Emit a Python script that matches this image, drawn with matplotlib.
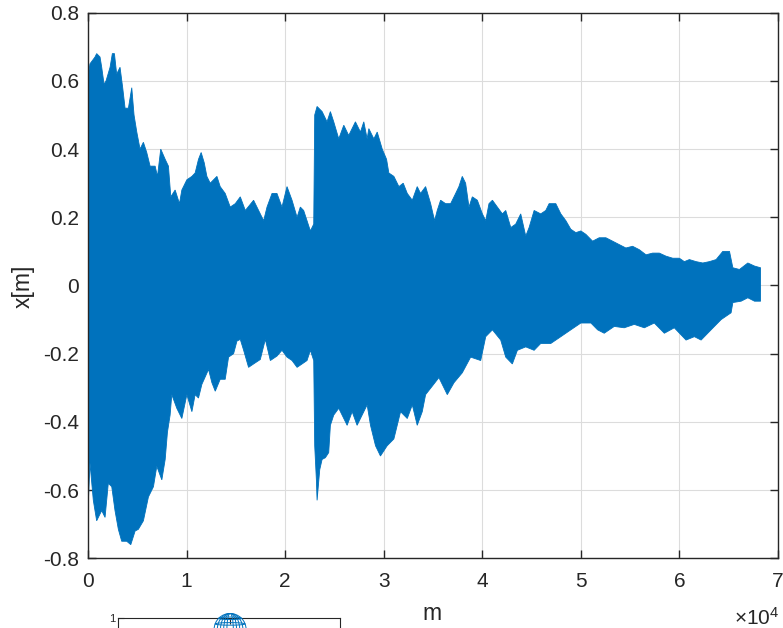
import numpy as np
import matplotlib
matplotlib.use("Agg")
import matplotlib.pyplot as plt
from matplotlib.patches import Ellipse

plt.rcParams['font.family'] = ['Liberation Sans', 'DejaVu Sans']
plt.rcParams['mathtext.fontset'] = 'custom'
plt.rcParams['mathtext.rm'] = 'Liberation Sans'
plt.rcParams['mathtext.it'] = 'Liberation Sans'

# ---- data: upper / lower envelope of the oscillating signal ----
upper_x = [0, 200, 710, 880, 1220, 1390, 1630, 1830, 2240, 2470, 2680, 2910, 3250, 3520, 3760,
           4100, 4440, 4670, 4950, 5280, 5620, 5960, 6300, 6810, 7050, 7380, 7830, 8160, 8400,
           8840, 9280, 9520, 10030, 10540, 10870, 11210, 11480, 11790, 12060, 12400, 12740,
           13080, 13410, 13920, 14430, 14940, 15450, 15960, 16800, 17480, 17820, 18160, 18670,
           19170, 19680, 20190, 20700, 21210, 21540, 21880, 22220, 22560, 22900, 23000, 23240,
           23750, 24250, 24590, 24930, 25440, 25950, 26450, 27130, 27640, 27980, 28320, 28490,
           29000, 29340, 29850, 30290, 30520, 31030, 31540, 31980, 32390, 32900, 33400, 33740,
           34250, 34760, 35160, 35430, 35770, 36280, 36790, 37300, 37630, 37970, 38310, 38650,
           38990, 39500, 40010, 40350, 40680, 41030, 41530, 42040, 42380, 42890, 43390, 43900,
           44410, 44750, 45260, 45930, 46440, 46780, 47460, 47970, 48480, 48980, 49490, 50000,
           50510, 51190, 51860, 52540, 53220, 53890, 54570, 55250, 55930, 56610, 57280, 57960,
           58640, 59320, 59990, 60500, 61010, 61690, 62370, 63040, 63720, 64400, 65080, 65420,
           66090, 66940, 67620, 68230]
upper_y = [0.61, 0.65, 0.67, 0.68, 0.67, 0.64, 0.59, 0.60, 0.64, 0.68, 0.68, 0.62, 0.64, 0.58, 0.52,
           0.52, 0.58, 0.50, 0.45, 0.40, 0.42, 0.39, 0.35, 0.35, 0.32, 0.40, 0.37, 0.35, 0.26,
           0.28, 0.24, 0.28, 0.31, 0.32, 0.33, 0.37, 0.39, 0.36, 0.32, 0.30, 0.31,
           0.32, 0.29, 0.27, 0.23, 0.24, 0.26, 0.22, 0.25, 0.21, 0.19, 0.23, 0.27,
           0.27, 0.23, 0.29, 0.25, 0.20, 0.23, 0.22, 0.19, 0.16, 0.18, 0.50, 0.525,
           0.51, 0.48, 0.51, 0.48, 0.43, 0.47, 0.44, 0.48, 0.45, 0.48, 0.43, 0.46,
           0.43, 0.45, 0.40, 0.37, 0.33, 0.32, 0.29, 0.30, 0.27, 0.25, 0.29, 0.27,
           0.29, 0.24, 0.19, 0.22, 0.25, 0.24, 0.24, 0.27, 0.29, 0.32, 0.30, 0.23,
           0.26, 0.25, 0.21, 0.19, 0.24, 0.25, 0.23, 0.21, 0.22, 0.17, 0.18, 0.21,
           0.145, 0.17, 0.22, 0.21, 0.22, 0.24, 0.24, 0.21, 0.19, 0.165, 0.155, 0.16,
           0.15, 0.13, 0.14, 0.14, 0.13, 0.12, 0.11, 0.115, 0.105, 0.09, 0.095, 0.095,
           0.086, 0.08, 0.08, 0.07, 0.076, 0.07, 0.066, 0.07, 0.076, 0.10, 0.10, 0.052,
           0.047, 0.066, 0.057, 0.052]

lower_x = [0, 200, 540, 880, 1390, 1730, 2060, 2410, 2740, 3080, 3420, 3930, 4340, 4780, 5110,
           5620, 6130, 6640, 6980, 7490, 7830, 8060, 8330, 8500, 9010, 9520, 10030, 10540, 10870,
           11210, 11550, 12230, 12570, 12910, 13410, 13920, 14260, 14770, 15110, 15450, 15790,
           16290, 16800, 17480, 17990, 18500, 19170, 19680, 20190, 20700, 21210, 21720, 22220,
           22560, 22900, 23000, 23170, 23240, 23510, 23750, 24080, 24420, 24590, 24930, 25440,
           25950, 26290, 26800, 27300, 27810, 28320, 28660, 29170, 29670, 30350, 31030, 31710,
           32390, 32900, 33400, 33910, 34250, 34930, 35600, 36450, 37130, 37970, 38820, 39840,
           40350, 41030, 41870, 42380, 43050, 43560, 44410, 45260, 45930, 46950, 47970, 48980,
           50000, 51020, 51700, 52370, 53390, 54400, 55420, 56440, 57450, 58470, 59480, 60670,
           61520, 62200, 63210, 64230, 65240, 65420, 66260, 66940, 67620, 68230]
lower_y = [-0.66, -0.52, -0.63, -0.69, -0.66, -0.68, -0.58, -0.59, -0.66, -0.715, -0.75, -0.75, -0.76, -0.72, -0.715,
           -0.69, -0.62, -0.59, -0.53, -0.57, -0.51, -0.43, -0.38, -0.32, -0.36, -0.39, -0.32, -0.37, -0.32,
           -0.33, -0.29, -0.246, -0.285, -0.31, -0.275, -0.275, -0.21, -0.20, -0.163, -0.158, -0.19,
           -0.24, -0.23, -0.217, -0.158, -0.22, -0.207, -0.19, -0.21, -0.22, -0.24, -0.23, -0.22,
           -0.19, -0.22, -0.47, -0.57, -0.63, -0.54, -0.51, -0.505, -0.49, -0.41, -0.38, -0.36,
           -0.39, -0.41, -0.37, -0.41, -0.38, -0.35, -0.41, -0.47, -0.50, -0.47, -0.45, -0.37,
           -0.39, -0.35, -0.41, -0.37, -0.32, -0.295, -0.27, -0.32, -0.285, -0.256, -0.21, -0.22,
           -0.15, -0.13, -0.16, -0.21, -0.23, -0.19, -0.18, -0.19, -0.17, -0.17, -0.15, -0.13,
           -0.11, -0.11, -0.13, -0.14, -0.12, -0.124, -0.114, -0.124, -0.11, -0.14, -0.124, -0.16,
           -0.15, -0.16, -0.13, -0.10, -0.08, -0.05, -0.046, -0.036, -0.046, -0.046]

xticks = [0, 10000, 20000, 30000, 40000, 50000, 60000, 70000]
xtick_labels = ['0', '1', '2', '3', '4', '5', '6', '7']
yticks = [-0.8, -0.6, -0.4, -0.2, 0, 0.2, 0.4, 0.6, 0.8]
ytick_labels = ['-0.8', '-0.6', '-0.4', '-0.2', '0', '0.2', '0.4', '0.6', '0.8']

BLUE = '#0072BD'
AXC = '#262626'

fig = plt.figure(figsize=(7.83, 6.28), dpi=100)
ax = fig.add_axes([88 / 783, 1 - 558.3 / 628, 690 / 783, 545.6 / 628])

poly_x = np.concatenate([upper_x, lower_x[::-1]])
poly_y = np.concatenate([upper_y, lower_y[::-1]])
ax.fill(poly_x, poly_y, color=BLUE, linewidth=0.6, edgecolor=BLUE, zorder=3)

ax.set_xlim(0, 70000)
ax.set_ylim(-0.8, 0.8)
ax.set_xticks(xticks)
ax.set_xticklabels(xtick_labels)
ax.set_yticks(yticks)
ax.set_yticklabels(ytick_labels)
ax.grid(True, color='#dcdcdc', linewidth=0.8, zorder=0)
ax.set_axisbelow(True)
for s in ax.spines.values():
    s.set_color(AXC)
    s.set_linewidth(1.0)
    s.set_zorder(5)
ax.tick_params(direction='in', length=6, width=1.0, color=AXC, labelcolor=AXC,
               labelsize=15, top=True, right=True)
ax.tick_params(axis='x', pad=10)
ax.tick_params(axis='y', pad=6.5)

fig.text(23 / 783, 1 - 286 / 628, 'x[m]', rotation=90, ha='center', va='center',
         fontsize=16.5, color=AXC)
fig.text(432 / 783, 1 - 613 / 628, 'm', ha='center', va='center', fontsize=16.5, color=AXC)
fig.text(779 / 783, 1 - 618 / 628, r'$\times10^{4}$', ha='right', va='center',
         fontsize=15, color=AXC)

# ---- partially visible second panel at the bottom ----
ih = 0.3
ax2 = fig.add_axes([118 / 783, (628 - 617.5) / 628 - ih, 222 / 783, ih])
ax2.set_xlim(0, 1)
ax2.set_ylim(0, 1)
ax2.set_xticks([0.505])
ax2.set_xticklabels([])
ax2.set_yticks([1])
ax2.set_yticklabels(['1'])
ax2.tick_params(direction='in', length=4, width=0.8, labelsize=8, color=AXC,
                labelcolor=AXC, top=True, bottom=False, pad=2)
for s in ax2.spines.values():
    s.set_color(AXC)
    s.set_linewidth(0.8)

dome_cx = 0.505
dome_w = 32 / 222
dome_h = 32 / (ih * 628)
dome_cy = 1 - 12 / (ih * 628)
meridian_fracs = [1.0, 0.8, 0.6, 0.4, 0.2]
for f in meridian_fracs:
    ax2.add_patch(Ellipse((dome_cx, dome_cy), dome_w * f, dome_h, fill=False,
                          edgecolor=BLUE, linewidth=0.7, clip_on=False, zorder=4))
parallel_levels = [0.35, 0.7]
for lv in parallel_levels:
    ax2.add_patch(Ellipse((dome_cx, dome_cy + dome_h / 2 * lv), dome_w * np.sqrt(1 - lv ** 2),
                          dome_h * 0.08, fill=False, edgecolor=BLUE, linewidth=0.7,
                          clip_on=False, zorder=4))

fig.savefig('out.png', dpi=100)
